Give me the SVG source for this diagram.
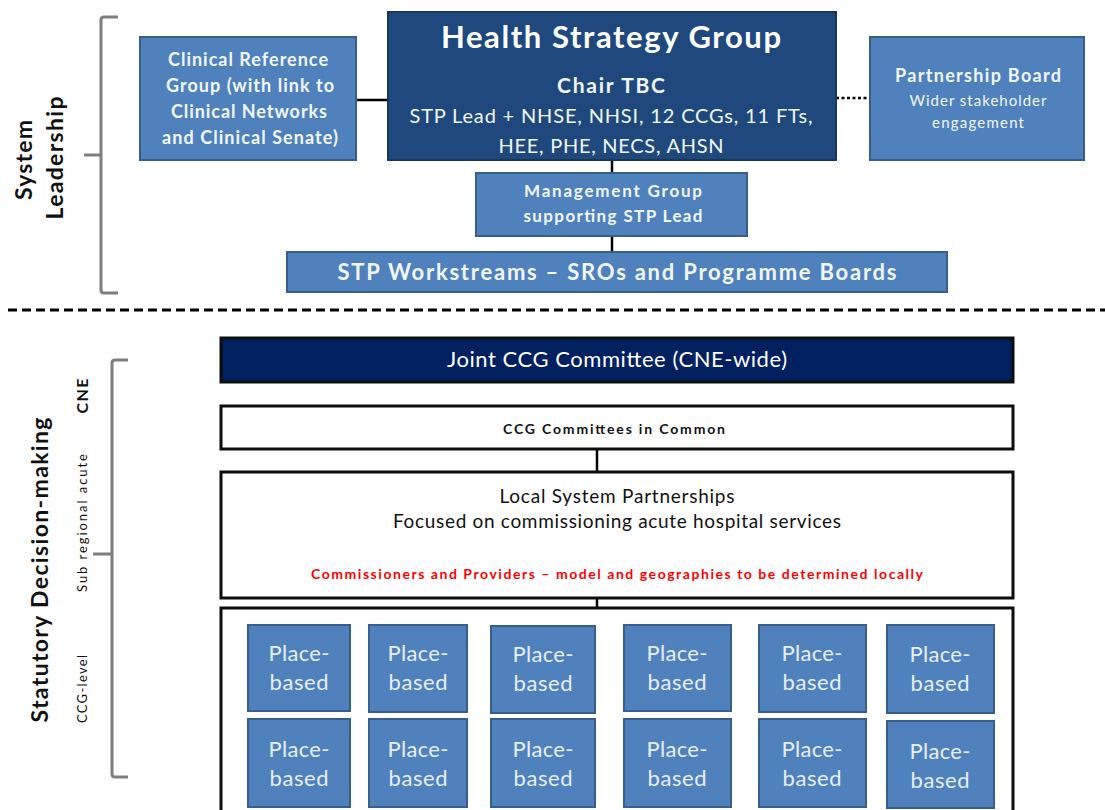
<svg xmlns="http://www.w3.org/2000/svg" width="1105" height="810" viewBox="0 0 1105 810">
<style>
text{font-family:Lato,"Liberation Sans",sans-serif;text-anchor:middle}
.blue{fill:#4f81bd;stroke:#385d8a;stroke-width:2}
.navy{fill:#1f497d;stroke:#17375e;stroke-width:2}
.dark{fill:#002060;stroke:#0d0d0d;stroke-width:3}
.white{fill:#ffffff;stroke:#0d0d0d;stroke-width:3}
.wt{fill:#f2f6fb}
.b{font-weight:bold}
.k{fill:#111111}
.bracket{fill:none;stroke:#7f7f7f;stroke-width:3;stroke-linejoin:round}
.conn{stroke:#000;stroke-width:2.5;fill:none}
.pb{font-size:22px;fill:#e8eef7}
</style>

<g id="labels">
<text class="b k" font-size="23" textLength="80" transform="translate(32,160) rotate(-90)">System</text>
<text class="b k" font-size="23" textLength="123" transform="translate(63,158) rotate(-90)">Leadership</text>
<text class="b k" font-size="23" textLength="305" transform="translate(48,570) rotate(-90)">Statutory  Decision-making</text>
<text class="b k" font-size="16" textLength="35" transform="translate(88,396) rotate(-90)">CNE</text>
<text class="k" font-size="13" textLength="138" transform="translate(87,523) rotate(-90)">Sub regional acute</text>
<text class="k" font-size="13" textLength="68" transform="translate(87,689) rotate(-90)">CCG-level</text>
</g>

<g id="brackets">
<path class="bracket" d="M118,17 H104 Q101,17 101,20 V290 Q101,293 104,293 H118 M101,155 H84"/>
<path class="bracket" d="M128,360 H115 Q112,360 112,363 V774 Q112,777 115,777 H128 M112,554 H93"/>
</g>

<line id="divider" x1="8" y1="310" x2="1105" y2="310" stroke="#000" stroke-width="3" stroke-dasharray="9 5"/>

<g id="connectors">
<line class="conn" x1="356" y1="100" x2="389" y2="100"/>
<line class="conn" x1="836" y1="98" x2="870" y2="98" stroke-width="3" stroke-dasharray="3 2.5"/>
<line class="conn" x1="612" y1="160" x2="612" y2="173"/>
<line class="conn" x1="612" y1="236" x2="612" y2="252"/>
<line class="conn" x1="597" y1="449" x2="597" y2="472"/>
<line class="conn" x1="597" y1="598" x2="597" y2="608"/>
</g>

<g id="clinical-reference-group">
<rect class="blue" x="140" y="37" width="216" height="123"/>
<text class="wt b" font-size="18" x="248" y="66" textLength="160">Clinical Reference</text>
<text class="wt b" font-size="18" x="250" y="92" textLength="168">Group (with link to</text>
<text class="wt b" font-size="18" x="249" y="118" textLength="156">Clinical Networks</text>
<text class="wt b" font-size="18" x="250" y="144" textLength="176">and Clinical Senate)</text>
</g>

<g id="health-strategy-group">
<rect class="navy" x="388" y="12" width="448" height="148"/>
<text class="b" fill="#ffffff" font-size="31" x="611" y="48" textLength="340">Health Strategy Group</text>
<text class="wt b" font-size="21" x="611" y="93" textLength="108">Chair TBC</text>
<text class="wt" font-size="20" x="611" y="123" textLength="403">STP Lead + NHSE, NHSI, 12 CCGs, 11 FTs,</text>
<text class="wt" font-size="20" x="611" y="153" textLength="225">HEE, PHE, NECS, AHSN</text>
</g>

<g id="partnership-board">
<rect class="blue" x="870" y="37" width="214" height="123"/>
<text class="wt b" font-size="18" x="978" y="82" textLength="166">Partnership  Board</text>
<text class="wt" font-size="15" x="978" y="106" textLength="137">Wider stakeholder</text>
<text class="wt" font-size="15" x="978" y="128" textLength="92">engagement</text>
</g>

<g id="management-group">
<rect class="blue" x="476" y="173" width="271" height="63"/>
<text class="wt b" font-size="17" x="613" y="197" textLength="178">Management Group</text>
<text class="wt b" font-size="17" x="613" y="222" textLength="179">supporting  STP Lead</text>
</g>

<g id="stp-workstreams">
<rect class="blue" x="287" y="252" width="660" height="40"/>
<text class="wt b" font-size="22" x="617" y="280" textLength="559">STP Workstreams  – SROs and Programme Boards</text>
</g>

<g id="joint-ccg-committee">
<rect class="dark" x="221" y="338" width="792" height="44"/>
<text fill="#ffffff" font-size="22" x="617" y="367" textLength="340">Joint CCG Committee (CNE-wide)</text>
</g>

<g id="ccg-committees-in-common">
<rect class="white" x="221" y="406" width="792" height="43"/>
<text class="k b" font-size="14" x="614" y="434" textLength="222">CCG  Committees  in  Common</text>
</g>

<g id="local-system-partnerships">
<rect class="white" x="221" y="472" width="792" height="126"/>
<text class="k" font-size="19" x="617" y="503" textLength="235">Local System Partnerships</text>
<text class="k" font-size="19" x="617" y="528" textLength="448">Focused on commissioning acute hospital services</text>
<text class="b" fill="#ff0000" font-size="14" x="617" y="579" textLength="612">Commissioners  and  Providers – model  and  geographies  to  be  determined  locally</text>
</g>

<g id="place-based-container">
<rect class="white" x="221" y="608" width="792" height="215"/>
</g>

<g id="place-based-1"><rect class="blue" x="248" y="625" width="102" height="86"/><text class="pb" x="299" y="661" textLength="61">Place-</text><text class="pb" x="299" y="690" textLength="59">based</text></g>
<g id="place-based-2"><rect class="blue" x="369" y="625" width="98" height="87"/><text class="pb" x="418" y="661" textLength="61">Place-</text><text class="pb" x="418" y="690" textLength="59">based</text></g>
<g id="place-based-3"><rect class="blue" x="491" y="626" width="104" height="87"/><text class="pb" x="543" y="662" textLength="61">Place-</text><text class="pb" x="543" y="691" textLength="59">based</text></g>
<g id="place-based-4"><rect class="blue" x="624" y="625" width="107" height="86"/><text class="pb" x="677" y="661" textLength="61">Place-</text><text class="pb" x="677" y="690" textLength="59">based</text></g>
<g id="place-based-5"><rect class="blue" x="759" y="625" width="107" height="87"/><text class="pb" x="812" y="661" textLength="61">Place-</text><text class="pb" x="812" y="690" textLength="59">based</text></g>
<g id="place-based-6"><rect class="blue" x="887" y="625" width="107" height="88"/><text class="pb" x="940" y="662" textLength="61">Place-</text><text class="pb" x="940" y="691" textLength="59">based</text></g>
<g id="place-based-7"><rect class="blue" x="248" y="719" width="102" height="88"/><text class="pb" x="299" y="757" textLength="61">Place-</text><text class="pb" x="299" y="786" textLength="59">based</text></g>
<g id="place-based-8"><rect class="blue" x="369" y="719" width="98" height="88"/><text class="pb" x="418" y="757" textLength="61">Place-</text><text class="pb" x="418" y="786" textLength="59">based</text></g>
<g id="place-based-9"><rect class="blue" x="491" y="719" width="104" height="88"/><text class="pb" x="543" y="757" textLength="61">Place-</text><text class="pb" x="543" y="786" textLength="59">based</text></g>
<g id="place-based-10"><rect class="blue" x="624" y="719" width="107" height="88"/><text class="pb" x="677" y="757" textLength="61">Place-</text><text class="pb" x="677" y="786" textLength="59">based</text></g>
<g id="place-based-11"><rect class="blue" x="759" y="719" width="107" height="88"/><text class="pb" x="812" y="757" textLength="61">Place-</text><text class="pb" x="812" y="786" textLength="59">based</text></g>
<g id="place-based-12"><rect class="blue" x="887" y="721" width="107" height="87"/><text class="pb" x="940" y="759" textLength="61">Place-</text><text class="pb" x="940" y="788" textLength="59">based</text></g>
</svg>
